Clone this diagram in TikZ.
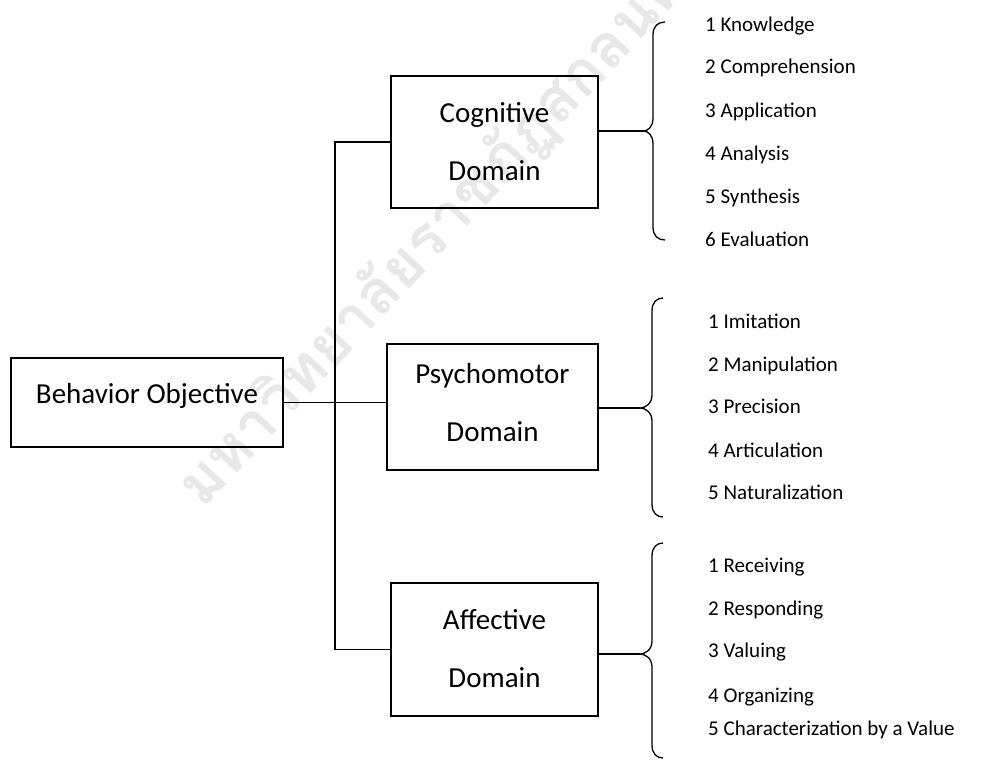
\documentclass[tikz,border=0pt]{standalone}
\usepackage{fontspec}
\setmainfont{Carlito}
\newfontfamily\thaifont[Script=Thai]{Loma}
\definecolor{wmgray}{RGB}{232,232,232}
\newcommand\bracepath[6]{% tipx tipy vx endx top bottom
  \draw[bracestyle] (#4,#5) .. controls (#3+5,#5) and (#3,#5+4) .. (#3,#5+13)
    -- (#3,#2-13) .. controls (#3,#2-4) and (#1+5,#2) .. (#1,#2)
    .. controls (#1+5,#2) and (#3,#2+4) .. (#3,#2+13)
    -- (#3,#6-13) .. controls (#3,#6-4) and (#3+5,#6) .. (#4,#6);}
\begin{document}
\begin{tikzpicture}[x=1pt,y=-1pt,
  box/.style={draw,line width=1.3pt,inner sep=0pt,align=center,
    font=\fontsize{29}{58}\selectfont},
  conn/.style={line width=1.3pt},
  bracestyle/.style={line width=1.3pt},
  item/.style={anchor=base west,inner sep=0pt,font=\fontsize{21}{25}\selectfont},
  wmark/.style={text=wmgray,font=\thaifont\bfseries\fontsize{61}{70}\selectfont,inner sep=0pt}]
\useasboundingbox (0,0) rectangle (981,760);
% watermark
\node[wmark,rotate=47,anchor=base west] (wm) at (203,510) {มหาวิทยาลัยราชภัฏสกลนคร};
% boxes
\node[box,minimum width=272pt,minimum height=89pt,text height=18.7pt,text depth=16.3pt] (bo) at (147,402.5) {Behavior Objective};
\node[box,minimum width=207pt,minimum height=132pt,text height=76.7pt,text depth=0pt] (cog) at (494.5,142) {Cognitive\\Domain};
\node[box,minimum width=211pt,minimum height=126pt,text height=76.7pt,text depth=7pt] (psy) at (492.5,407) {Psychomotor\\Domain};
\node[box,minimum width=207pt,minimum height=133pt,text height=76.7pt,text depth=0pt] (aff) at (494.5,649.5) {Affective\\Domain};
% trunk
\coordinate (tk) at (335,0);
\draw[conn] (bo.east) -- (bo.east -| psy.west);
\draw[conn] (cog.west) -- (cog.west -| tk) -- (aff.west -| tk) -- (aff.west);
% brace tips
\coordinate (cbt) at (643,131);
\coordinate (pbt) at (640,408);
\coordinate (abt) at (640,654);
\draw[conn] (cbt -| cog.east) -- (cbt);
\draw[conn] (pbt -| psy.east) -- (pbt);
\draw[conn] (abt -| aff.east) -- (abt);
\bracepath{643}{131}{653}{665}{22}{240}
\bracepath{640}{408}{652}{663}{298}{517}
\bracepath{640}{654}{652}{663}{543}{758}
% cognitive items
\node[item] (c1) at (705,32) {1 Knowledge};
\node[item] (c2) at (705,74) {2 Comprehension};
\node[item] (c3) at (705,117) {3 Application};
\node[item] (c4) at (705,160) {4 Analysis};
\node[item] (c5) at (705,203) {5 Synthesis};
\node[item] (c6) at (705,246) {6 Evaluation};
% psychomotor items
\node[item] (p1) at (708,328) {1 Imitation};
\node[item] (p2) at (708,371) {2 Manipulation};
\node[item] (p3) at (708,413) {3 Precision};
\node[item] (p4) at (708,457) {4 Articulation};
\node[item] (p5) at (708,499) {5 Naturalization};
% affective items
\node[item] (a1) at (708,572) {1 Receiving};
\node[item] (a2) at (708,615) {2 Responding};
\node[item] (a3) at (708,657) {3 Valuing};
\node[item] (a4) at (708,702) {4 Organizing};
\node[item] (a5) at (708,735) {5 Characterization by a Value};
\end{tikzpicture}
\end{document}
